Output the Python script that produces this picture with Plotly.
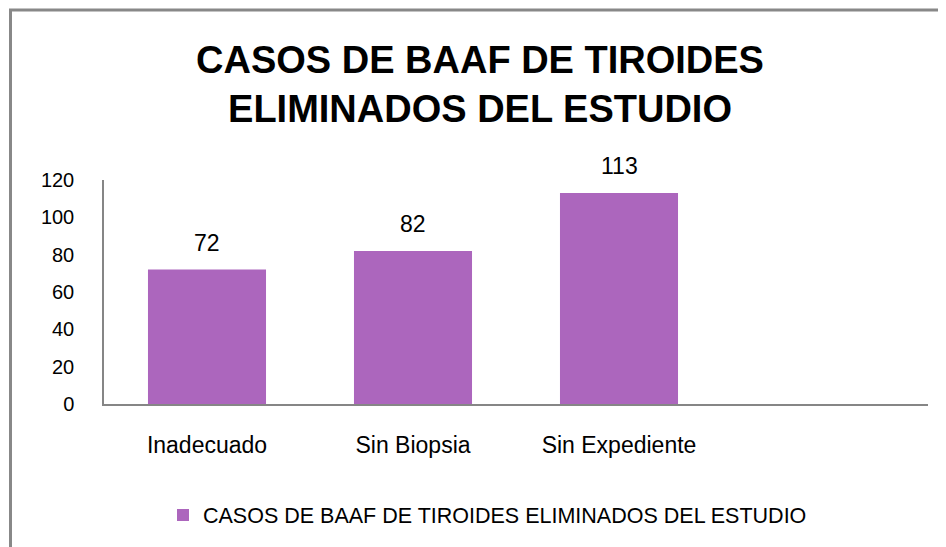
import plotly.graph_objects as go

categories = ["Inadecuado", "Sin Biopsia", "Sin Expediente"]
values = [72, 82, 113]
series_name = "CASOS DE BAAF DE TIROIDES ELIMINADOS DEL ESTUDIO"
title_text = "CASOS DE BAAF DE TIROIDES<br>ELIMINADOS DEL ESTUDIO"
y_ticks = [0, 20, 40, 60, 80, 100, 120]

OFF = 8  # default body margin of the html page
W, H = 946 - OFF, 547 - OFF
# target pixel positions in page coordinates
AX_L, AX_R, AX_T, AX_B = 104, 928, 180, 404
ML, MT = AX_L - OFF, AX_T - OFF
MR = W - (AX_R - OFF)
MB = H - (AX_B - OFF)
PW, PH = AX_R - AX_L, AX_B - AX_T

def px_x(px):
    return (px - AX_L) / PW

def px_y(py):
    return (AX_B - py) / PH

FONT = "Liberation Sans, Arial, sans-serif"
BAR = "#AC66BD"
AXIS = "#868686"

fig = go.Figure()
fig.add_trace(go.Bar(
    x=categories, y=values, name=series_name,
    marker=dict(color=BAR, line=dict(width=0)),
    showlegend=True,
))

for c, v in zip(categories, values):
    fig.add_annotation(x=c, y=v, text=str(v), showarrow=False,
                       yanchor="bottom", yshift=12,
                       font=dict(family=FONT, size=23, color="#000000"))

# chart border (left and top visible)
fig.add_shape(type="line", xref="paper", yref="paper",
              x0=px_x(10.5), x1=px_x(10.5), y0=px_y(10), y1=px_y(600),
              line=dict(color="#888888", width=3))
fig.add_shape(type="line", xref="paper", yref="paper",
              x0=px_x(9), x1=px_x(980), y0=px_y(10), y1=px_y(10),
              line=dict(color="#888888", width=3))

fig.update_layout(
    width=W, height=H,
    margin=dict(l=ML, r=MR, t=MT, b=MB, autoexpand=False),
    paper_bgcolor="white", plot_bgcolor="white",
    bargap=0.427,
    title=dict(text=title_text, x=(480 - OFF) / W, xanchor="center", xref="container",
               y=1 - 65 / H, yanchor="top", yref="container",
               font=dict(family=FONT, size=38, color="#000000", weight="bold")),
    legend=dict(orientation="h", x=px_x(163), xanchor="left",
                y=px_y(515), yanchor="middle",
                font=dict(family=FONT, size=21.5, color="#000000"),
                bgcolor="rgba(0,0,0,0)"),
    xaxis=dict(type="category", categoryorder="array", categoryarray=categories,
               range=[-0.5, 3.5], showline=True, linecolor=AXIS, linewidth=1.5,
               showgrid=False, zeroline=False, ticks="",
               ticklabelstandoff=20,
               tickfont=dict(family=FONT, size=23, color="#000000")),
    yaxis=dict(range=[0, 120], tickvals=y_ticks, showline=True, linecolor=AXIS,
               linewidth=1.5, showgrid=False, zeroline=False, ticks="",
               ticklabelstandoff=24,
               tickfont=dict(family=FONT, size=20, color="#000000")),
)

fig.write_html("out.html")
